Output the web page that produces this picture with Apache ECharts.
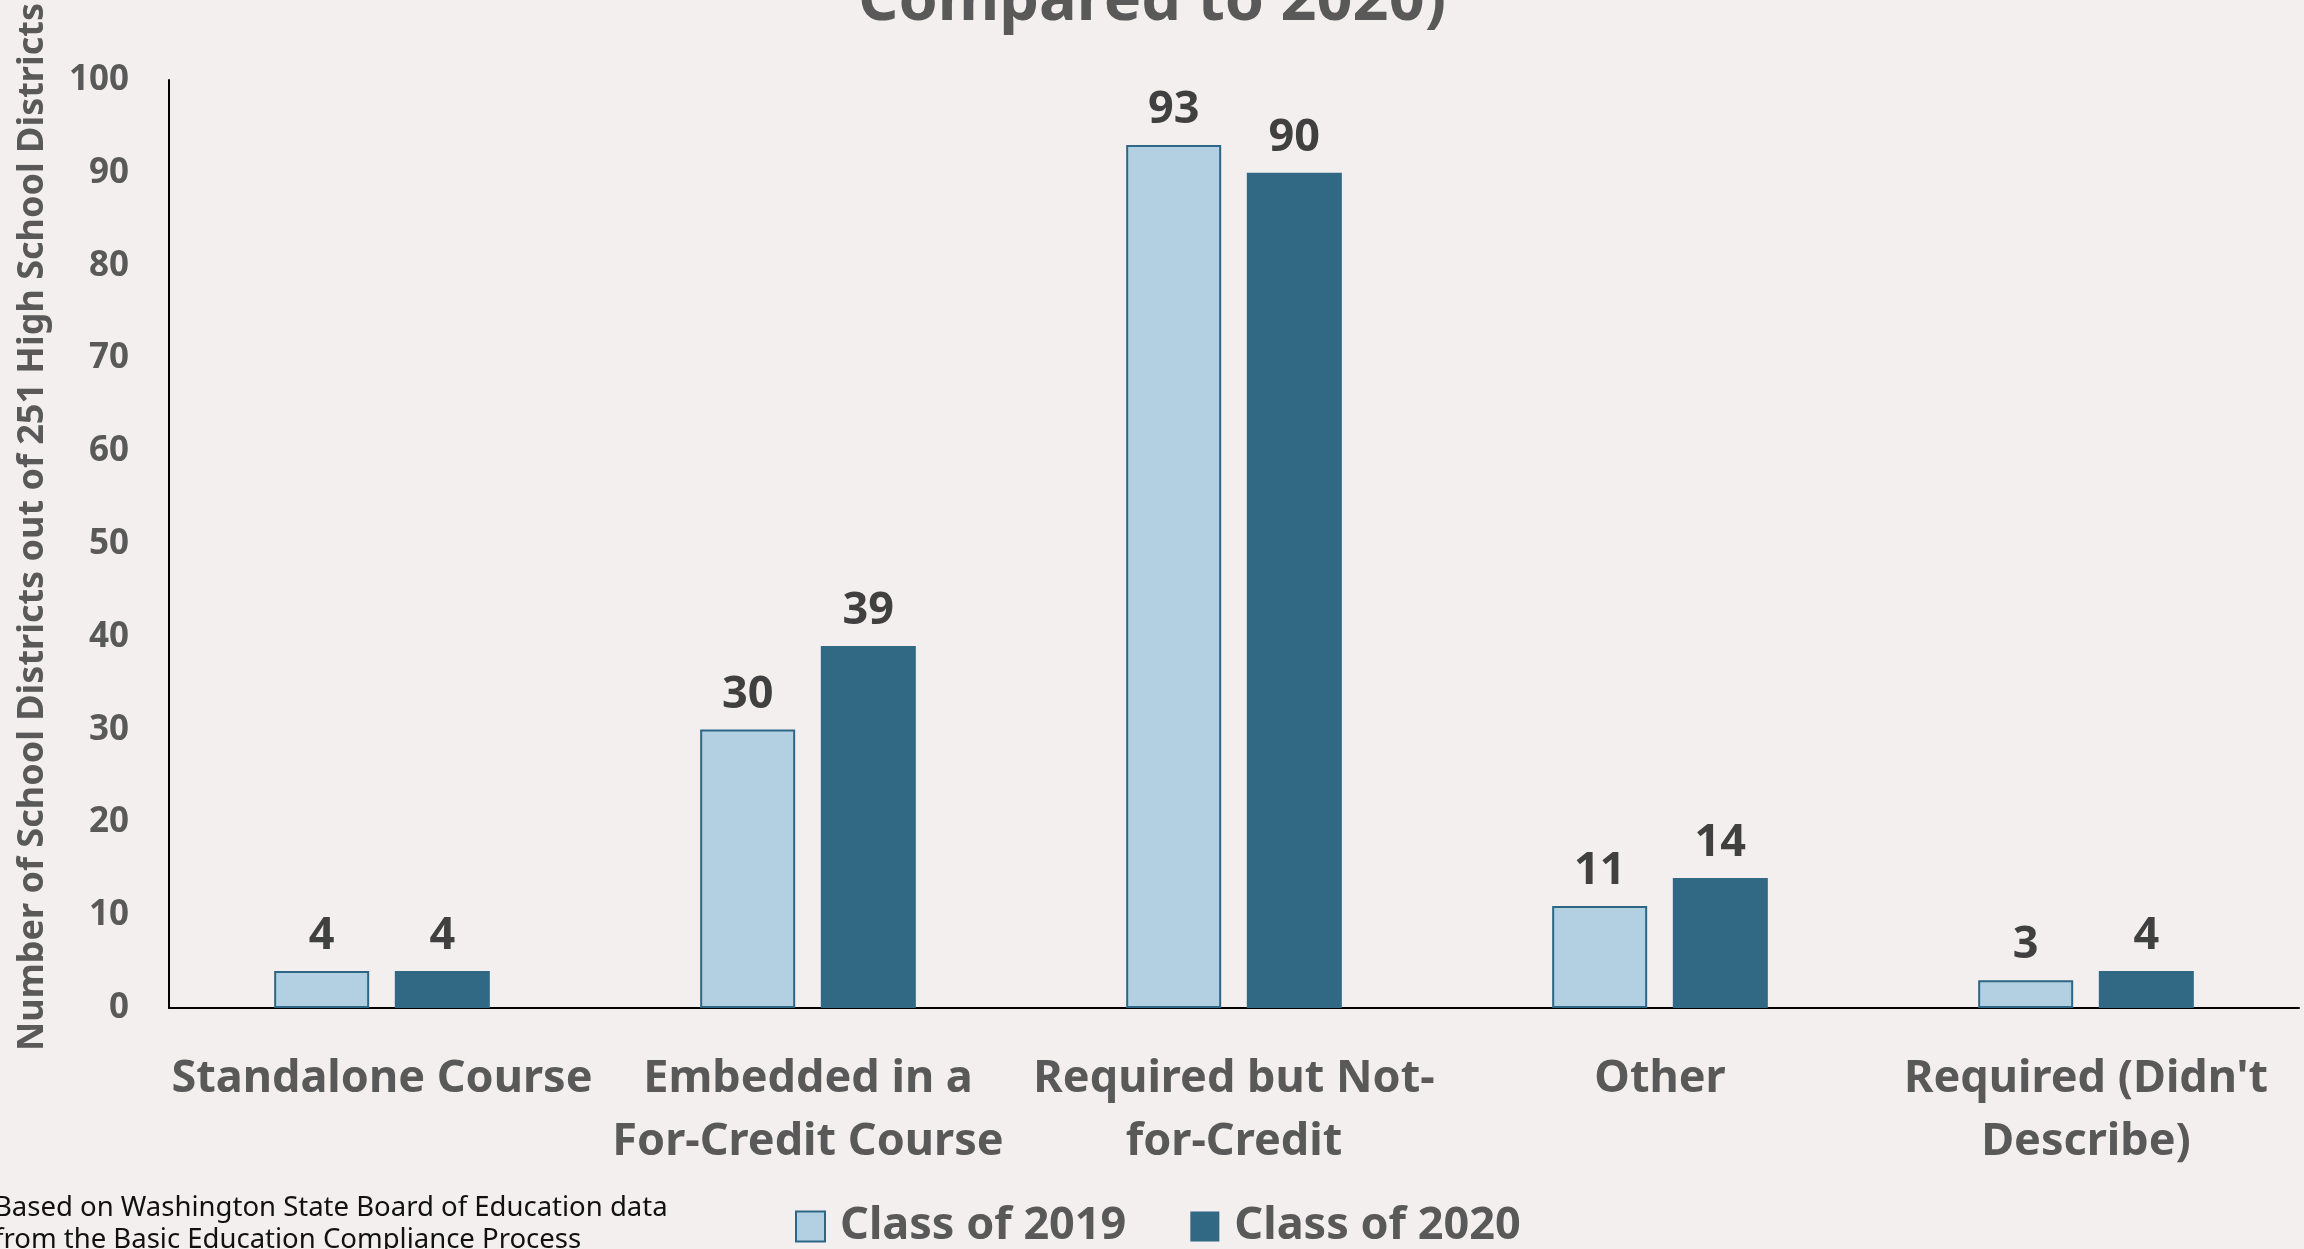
<!DOCTYPE html>
<html>
<head>
<meta charset="utf-8">
<script src="https://cdn.jsdelivr.net/npm/echarts@6/dist/echarts.min.js"></script>
<style>
  html, body { margin: 0; padding: 0; background: #f2efee; }
  #chart { width: 2304px; height: 1249px; }
</style>
</head>
<body>
<div id="chart"></div>
<script>
// data
const categories = [
  "Standalone Course",
  "Embedded in a\nFor-Credit Course",
  "Required but Not-\nfor-Credit",
  "Other",
  "Required (Didn't\nDescribe)"
];
const class2019 = [4, 30, 93, 11, 3];
const class2020 = [4, 39, 90, 14, 4];
const seriesNames = ["Class of 2019", "Class of 2020"];
const yTicks = { min: 0, max: 100, step: 10 };

const boldFont = "Noto Sans";
const greyText = "#595959";

const chart = echarts.init(document.getElementById("chart"));

const valueLabel = {
  show: true,
  position: "top",
  distance: 12,
  fontFamily: boldFont,
  fontWeight: "bold",
  fontSize: 45,
  color: "#404040"
};

chart.setOption({
  backgroundColor: "#f2efee",
  animation: false,
  grid: { left: 169, right: 5, top: 76, bottom: 241, containLabel: false },
  graphic: [
    {
      // only the last line of the title is visible in the picture
      type: "text",
      x: 1152,
      y: 2,
      style: {
        text: "Compared to 2020)",
        fontFamily: boldFont,
        fontWeight: "bold",
        fontSize: 63,
        fill: greyText,
        align: "center",
        verticalAlign: "middle"
      }
    },
    {
      type: "text",
      x: -6,
      y: 1192,
      style: {
        text: "Based on Washington State Board of Education data\nfrom the Basic Education Compliance Process",
        fontFamily: "Noto Sans",
        fontSize: 27.5,
        lineHeight: 32,
        fill: "#111",
        align: "left",
        verticalAlign: "top"
      }
    }
  ],
  legend: {
    data: seriesNames,
    left: 790,
    top: 1199,
    icon: "rect",
    itemWidth: 29,
    itemHeight: 30,
    itemGap: 64,
    textStyle: {
      fontFamily: boldFont,
      fontWeight: "bold",
      fontSize: 45,
      color: greyText,
      padding: [0, 0, 0, 10]
    }
  },
  xAxis: {
    type: "category",
    data: categories,
    axisLine: { show: true, lineStyle: { color: "#000", width: 2 } },
    axisTick: { show: false },
    axisLabel: {
      interval: 0,
      margin: 40,
      fontFamily: boldFont,
      fontWeight: "bold",
      fontSize: 45,
      lineHeight: 63,
      color: greyText
    }
  },
  yAxis: {
    type: "value",
    min: yTicks.min,
    max: yTicks.max,
    interval: yTicks.step,
    name: "Number of School Districts out of 251 High School Districts",
    nameLocation: "middle",
    nameRotate: 90,
    nameGap: 118,
    nameTextStyle: {
      fontFamily: boldFont,
      fontWeight: "bold",
      fontSize: 36,
      color: greyText,
      padding: [0, 0, 0, 34]
    },
    axisLine: { show: true, lineStyle: { color: "#000", width: 2 } },
    axisTick: { show: false },
    splitLine: { show: false },
    axisLabel: {
      margin: 40,
      fontFamily: boldFont,
      fontWeight: "bold",
      fontSize: 35,
      color: greyText
    }
  },
  series: [
    {
      name: seriesNames[0],
      type: "bar",
      data: class2019,
      barWidth: 95,
      barGap: "27%",
      itemStyle: { color: "#b2d0e2", borderColor: "#2d6785", borderWidth: 2 },
      label: valueLabel
    },
    {
      name: seriesNames[1],
      type: "bar",
      data: class2020,
      barWidth: 95,
      itemStyle: { color: "#316884" },
      label: valueLabel
    }
  ]
});
</script>
</body>
</html>
